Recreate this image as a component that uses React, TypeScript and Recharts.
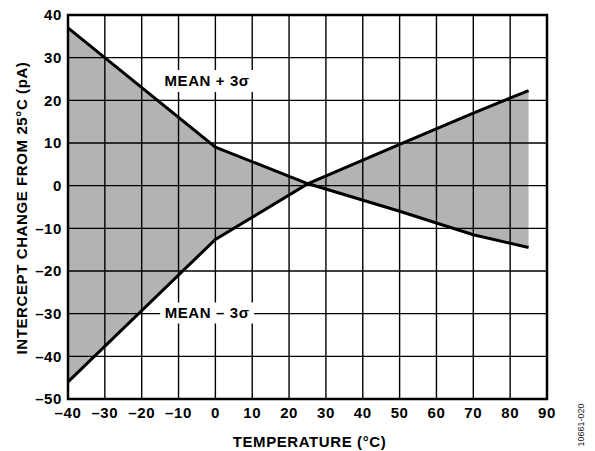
import React from 'react';
import {
  ComposedChart,
  Area,
  Line,
  XAxis,
  YAxis,
  ReferenceArea,
  ReferenceLine,
} from 'recharts';

// temperature points (°C) where the curves were read
const temps = [-40, 0, 25, 50, 70, 85];
// mean + 3 sigma intercept change (pA)
const upper = [37, 9, 0.5, -6, -11.5, -14.5];
// mean - 3 sigma intercept change (pA)
const lower = [-46, -12.6, 0.4, 9.7, 17, 22.3];

const xTicks = [-40, -30, -20, -10, 0, 10, 20, 30, 40, 50, 60, 70, 80, 90];
const yTicks = [-50, -40, -30, -20, -10, 0, 10, 20, 30, 40];

const data = temps.map((t, i) => ({ t, upper: upper[i], lower: lower[i] }));

const FONT = 'Arial, "Liberation Sans", Helvetica, sans-serif';
const tickStyle = {
  fontSize: 15,
  fontWeight: 'bold',
  fill: '#000',
  fontFamily: FONT,
  letterSpacing: 0.6,
};

const fmt = (v: number) => (v < 0 ? `\u2013${Math.abs(v)}` : `${v}`);

const labelStyle = {
  fill: '#000',
  fontSize: 15,
  fontWeight: 'bold',
  fontFamily: FONT,
  letterSpacing: 0.6,
};

export default function App() {
  // x axis title plus the figure number on the right edge
  const renderXTitle = (props: any) => {
    const vb = props.viewBox;
    return (
      <g>
        <text
          x={vb.x + vb.width / 2 + 2}
          y={vb.y + 48}
          textAnchor="middle"
          {...labelStyle}
        >
          TEMPERATURE (°C)
        </text>
        <text
          x={584}
          y={425}
          transform="rotate(-90 584 425)"
          textAnchor="middle"
          fontSize={9}
          fontFamily={FONT}
          fill="#222"
        >
          10661-020
        </text>
      </g>
    );
  };

  const renderYTitle = (props: any) => {
    const vb = props.viewBox;
    const cx = 27;
    const cy = vb.y + vb.height / 2 + 1;
    return (
      <text
        x={cx}
        y={cy}
        transform={`rotate(-90 ${cx} ${cy})`}
        textAnchor="middle"
        {...labelStyle}
      >
        INTERCEPT CHANGE FROM 25°C (pA)
      </text>
    );
  };

  return (
    <div style={{ position: 'absolute', left: 0, top: 0, background: '#fff' }}>
      <ComposedChart
        width={595}
        height={451}
        data={data}
        margin={{ top: 15, right: 48, left: 0, bottom: 0 }}
      >
        <XAxis
          type="number"
          dataKey="t"
          domain={[-40, 90]}
          ticks={xTicks}
          tickFormatter={fmt}
          tick={tickStyle}
          tickLine={false}
          axisLine={false}
          tickSize={0}
          tickMargin={8}
          height={52}
          interval={0}
          label={{ content: renderXTitle }}
        />
        <YAxis
          type="number"
          domain={[-50, 40]}
          ticks={yTicks}
          tickFormatter={fmt}
          tick={tickStyle}
          tickLine={false}
          axisLine={false}
          tickSize={0}
          tickMargin={6}
          width={68}
          interval={0}
          label={{ content: renderYTitle }}
        />
        <Area
          dataKey={(d: any) => [d.lower, d.upper]}
          fill="#b3b3b3"
          fillOpacity={1}
          stroke="none"
          isAnimationActive={false}
        />
        {/* grid drawn over the shaded band, as in the datasheet */}
        {xTicks.map((t) => (
          <ReferenceLine key={`gx${t}`} x={t} stroke="#000" strokeWidth={1.4} />
        ))}
        {yTicks.map((t) => (
          <ReferenceLine key={`gy${t}`} y={t} stroke="#000" strokeWidth={1.4} />
        ))}
        <Line
          dataKey="upper"
          stroke="#000"
          strokeWidth={3}
          dot={false}
          isAnimationActive={false}
        />
        <Line
          dataKey="lower"
          stroke="#000"
          strokeWidth={3}
          dot={false}
          isAnimationActive={false}
        />
        <ReferenceArea
          x1={-15}
          x2={10.5}
          y1={21.95}
          y2={27.1}
          fill="#fff"
          fillOpacity={1}
          stroke="none"
          zIndex={1600}
          label={{ value: 'MEAN + 3σ', position: 'center', ...labelStyle }}
        />
        <ReferenceArea
          x1={-15}
          x2={10.5}
          y1={-32.3}
          y2={-27.4}
          fill="#fff"
          fillOpacity={1}
          stroke="none"
          zIndex={1600}
          label={{ value: 'MEAN \u2013 3σ', position: 'center', ...labelStyle }}
        />
        <ReferenceArea
          x1={-40}
          x2={90}
          y1={-50}
          y2={40}
          fill="none"
          stroke="#000"
          strokeWidth={2.5}
          zIndex={1600}
        />
      </ComposedChart>
    </div>
  );
}
